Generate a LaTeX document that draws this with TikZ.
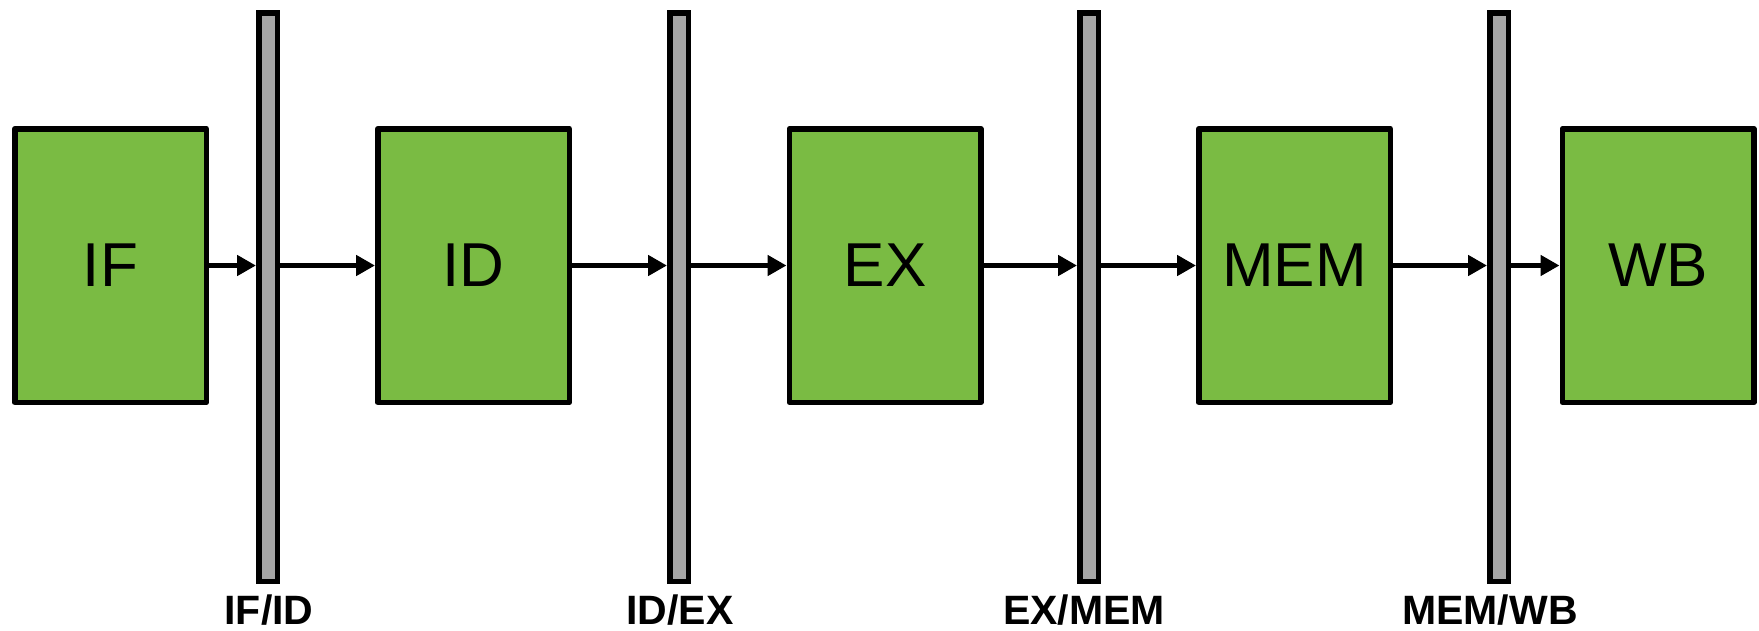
\documentclass[tikz,border=0pt]{standalone}
\usepackage{fontspec}
\setmainfont{Liberation Sans}
\usetikzlibrary{arrows.meta}
\definecolor{stagegreen}{RGB}{122,187,67}
\definecolor{reggray}{RGB}{166,166,166}
\tikzset{
  stage/.style={draw=black, fill=stagegreen, line width=5.5pt, line join=round,
    minimum width=191.5pt, minimum height=273.5pt, inner sep=0pt,
    font=\fontsize{62}{70}\selectfont},
  latch/.style={draw=black, fill=reggray, line width=5.5pt,
    minimum width=18.5pt, minimum height=568.5pt, inner sep=0pt},
  latchlabel/.style={anchor=base, inner sep=0pt,
    font=\fontsize{41}{46}\selectfont\bfseries},
  flow/.style={line width=5pt, -{Triangle[length=19pt,width=20pt]}}
}
\begin{document}
\begin{tikzpicture}[x=1pt, y=-1pt]
  \useasboundingbox (0,0) rectangle (1759,630);

  % pipeline stages
  \node[stage] (IF)  at (110.5,265.5) {IF};
  \node[stage] (ID)  at (473.5,265.5) {ID};
  \node[stage] (EX)  at (885,265.5)   {EX};
  \node[stage] (MEM) at (1294.5,265.5) {MEM};
  \node[stage] (WB)  at (1658,265.5)  {WB};

  % pipeline registers
  \node[latch] (r1) at (268,297)  {};
  \node[latch] (r2) at (679,297)  {};
  \node[latch] (r3) at (1089,297) {};
  \node[latch] (r4) at (1499,297) {};

  \node[latchlabel] (l1) at (269,624)  {IF/ID};
  \node[latchlabel] (l2) at (680,624)  {ID/EX};
  \node[latchlabel] (l3) at (1084,624) {EX/MEM};
  \node[latchlabel] (l4) at (1490,624) {MEM/WB};

  % data flow
  \draw[flow] (IF.east)  -- (IF.east -| r1.west);
  \draw[flow] (ID.west -| r1.east) -- (ID.west);
  \draw[flow] (ID.east)  -- (ID.east -| r2.west);
  \draw[flow] (EX.west -| r2.east) -- (EX.west);
  \draw[flow] (EX.east)  -- (EX.east -| r3.west);
  \draw[flow] (MEM.west -| r3.east) -- (MEM.west);
  \draw[flow] (MEM.east) -- (MEM.east -| r4.west);
  \draw[flow] (WB.west -| r4.east) -- (WB.west);
\end{tikzpicture}
\end{document}
